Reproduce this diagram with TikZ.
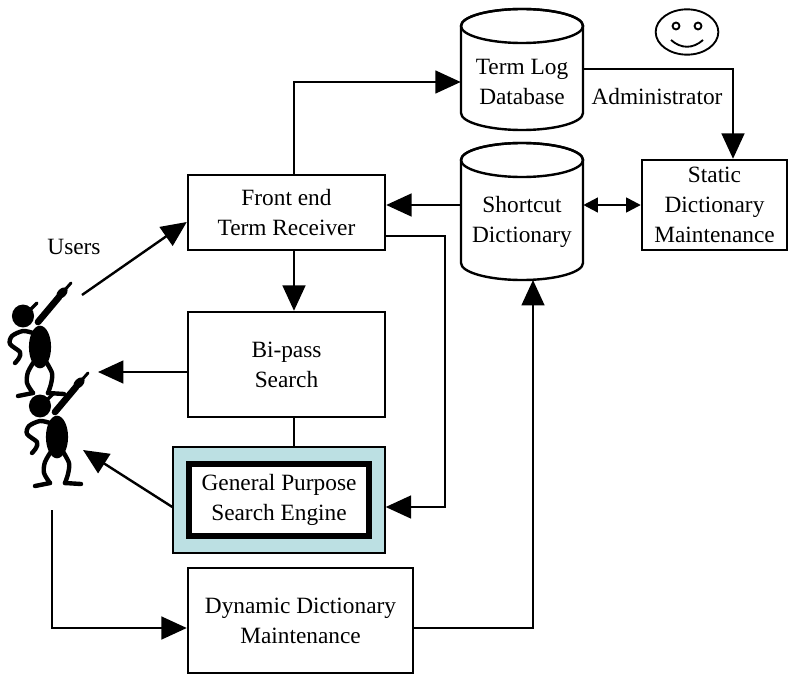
\documentclass[tikz,border=0pt]{standalone}
\usepackage{fontspec}
\setmainfont{Liberation Serif}
\usetikzlibrary{arrows.meta}
\definecolor{gpfill}{RGB}{188,224,227}
% database drum: centre x, centre y of top ellipse, centre y of bottom arc
\newcommand\dbdrum[3]{%
  \draw[link, fill=white] ({#1-61},#2) -- ({#1-61},#3)
    arc[start angle=180, end angle=360, x radius=45.75pt, y radius=12.75pt]
    -- ({#1+61},#2)
    arc[start angle=0, end angle=180, x radius=45.75pt, y radius=12.75pt] -- cycle;
  \draw[link] (#1,#2) ellipse[x radius=45.75pt, y radius=12.75pt];}
\begin{document}
\begin{tikzpicture}[x=0.75pt,y=-0.75pt,
  every node/.style={font=\fontsize{17.5}{22.5}\selectfont, align=center, inner sep=0pt},
  box/.style={draw, line width=1.8pt, fill=white},
  link/.style={line width=1.8pt},
  conn/.style={line width=1.8pt, -{Triangle[length=19pt,width=17pt]}},
  dbl/.style={line width=1.8pt, {Triangle[length=11pt,width=11pt]}-{Triangle[length=11pt,width=11pt]}},
  ink/.style={line width=3.3pt, line cap=round, line join=round},
  stickman/.pic={
    % head and cap peak
    \fill (0,0) ellipse[x radius=8.3pt, y radius=8.6pt];
    \draw[ink, line width=2.6pt] (8,-7) -- (14,-13);
    % pointing arm, hand and finger
    \draw[ink, line width=5pt] (15,6) -- (36,-19);
    \fill[rotate around={45:(39,-23)}] (39,-23) ellipse[x radius=5pt, y radius=3.2pt];
    \draw[ink, line width=2.2pt] (40,-24) -- (48,-33);
    % body
    \fill (17,31) ellipse[x radius=8.3pt, y radius=16pt];
    % arm on the hip
    \draw[ink] plot[smooth] coordinates {(10,17) (0,15) (-11,20) (-13,28) (-3,36) (-4,42) (-8,47)};
    % legs and feet
    \draw[ink] plot[smooth] coordinates {(12,44) (5,56) (4,67) (10,77)};
    \draw[ink] (10,77) -- (-5,80);
    \draw[ink] plot[smooth] coordinates {(22,44) (29,57) (28,68) (25,77)};
    \draw[ink] (25,77) -- (41,78);
  }]
\useasboundingbox (0,0) rectangle (788,674);

% databases
\dbdrum{522}{26}{113}
\dbdrum{522}{160}{263}

% boxes
\node[box, minimum width=147.75pt, minimum height=56.25pt] (front) at (286.5,212.5) {Front end\\Term Receiver};
\node[box, minimum width=147.75pt, minimum height=78.75pt] (bipass) at (286.5,364.5) {Bi-pass\\Search};
\node[draw, line width=1pt, fill=gpfill, minimum width=159pt, minimum height=79.5pt] (gp) at (279,500) {};
\node[draw, line width=4.2pt, fill=white, minimum width=135pt, minimum height=54pt] (engine) at (279,500) {General Purpose\\Search Engine};
\node[box, minimum width=168.75pt, minimum height=78.75pt] (dynamic) at (300.5,620.5) {Dynamic Dictionary\\Maintenance};
\node[box, minimum width=108.75pt, minimum height=67.5pt] (static) at (714.5,205) {Static\\Dictionary\\Maintenance};
\node[minimum width=91.5pt] (termlog) at (522,82) {Term Log\\Database};
\node[minimum width=91.5pt] (shortcut) at (522,222) {Shortcut\\Dictionary};
\node (users) at (74,247) {Users};
\node (admin) at (657,97) {Administrator};

% administrator face
\draw[line width=1.4pt] (687,32) ellipse[x radius=23.5pt, y radius=17pt];
\draw[line width=1.4pt] (676,26) circle[radius=2.6pt] (698,26) circle[radius=2.6pt];
\draw[line width=1.4pt] (671,40) .. controls (681,49) and (693,49) .. (703,40);

% users
\pic at (23,316) {stickman};
\pic at (40,406) {stickman};

% connector bends and free ends
\coordinate (vx) at (294,0);
\coordinate (r1) at (0,205);
\coordinate (fr) at (445,236);
\coordinate (gpin) at (445,507);
\coordinate (adm) at (733,69);
\coordinate (ufe) at (0,222);
\coordinate (u1) at (82,295);
\coordinate (u2) at (98,372);
\coordinate (u3) at (83,450);
\coordinate (u4) at (52,510);
\coordinate (dl) at (0,628);
\coordinate (sb) at (533,280);

% connectors
\draw[conn] (front.north -| vx) |- (termlog.west);
\draw[conn] (termlog.east |- adm) -| (static.north -| adm);
\draw[conn] (shortcut.west |- r1) -- (front.east |- r1);
\draw[dbl] (shortcut.east |- r1) -- (static.west);
\draw[conn] (front.east |- fr) -- (fr) |- (gp.east |- gpin);
\draw[conn] (front.south -| vx) -- (bipass.north -| vx);
\draw[link] (bipass.south -| vx) -- (gp.north -| vx);
\draw[conn] (bipass.west |- u2) -- (u2);
\draw[conn] (gp.west |- gpin) -- (u3);
\draw[conn] (u1) -- (front.west |- ufe);
\draw[conn] (u4) |- (dynamic.west |- dl);
\draw[conn] (dynamic.east |- dl) -| (sb);
\end{tikzpicture}
\end{document}
